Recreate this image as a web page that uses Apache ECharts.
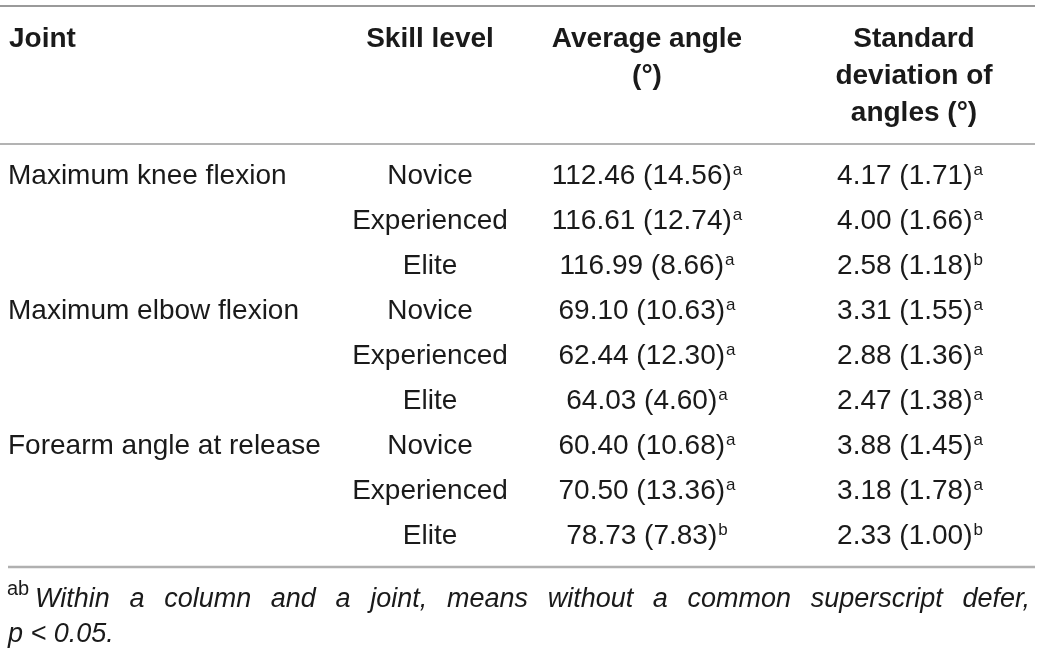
<!DOCTYPE html>
<html>
<head>
<meta charset="utf-8">
<script src="https://cdn.jsdelivr.net/npm/echarts@6/dist/echarts.min.js"></script>
<style>
  html, body { margin: 0; padding: 0; background: #fff; }
  #table { width: 1041px; height: 656px; }
</style>
</head>
<body>
<div id="table"></div>
<script>
// 表格数据
var joints = ['Maximum knee flexion', 'Maximum elbow flexion', 'Forearm angle at release']
var skillLevels = ['Novice', 'Experienced', 'Elite']
var headers = ['Joint', 'Skill level', 'Average angle\n(°)', 'Standard\ndeviation of\nangles (°)']

// Average angle: mean (sd) + superscript
var avgMean = [112.46, 116.61, 116.99, 69.10, 62.44, 64.03, 60.40, 70.50, 78.73]
var avgSd = [14.56, 12.74, 8.66, 10.63, 12.30, 4.60, 10.68, 13.36, 7.83]
var avgSup = ['a', 'a', 'a', 'a', 'a', 'a', 'a', 'a', 'b']

// Standard deviation of angles: mean (sd) + superscript
var sdMean = [4.17, 4.00, 2.58, 3.31, 2.88, 2.47, 3.88, 3.18, 2.33]
var sdSd = [1.71, 1.66, 1.18, 1.55, 1.36, 1.38, 1.45, 1.78, 1.00]
var sdSup = ['a', 'a', 'b', 'a', 'a', 'a', 'a', 'a', 'b']

var footSup = 'ab'
var footLines = ['Within a column and a joint, means without a common superscript defer,', 'p < 0.05.']

// 行 = 关节 x 水平
var rows = []
joints.forEach(function(j) {
  skillLevels.forEach(function(s) { rows.push(j + ' / ' + s) })
})

var FONT = '"Liberation Sans", Arial, sans-serif'
var INK = '#1a1a1a'

// 每一列一个 grid，列位置在这里定义
var cols = [
  { left: 8, width: 2, align: 'left' },
  { left: 330, width: 200, align: 'center' },
  { left: 547, width: 200, align: 'center' },
  { left: 810, width: 200, align: 'center' }
]

function cellText(mean, sd, sup) {
  return '{n|' + mean.toFixed(2) + ' (' + sd.toFixed(2) + ')}{s|' + sup + '}'
}

var richCell = {
  n: { fontSize: 28, fontFamily: FONT, color: INK, lineHeight: 34 },
  s: { fontSize: 17, fontFamily: FONT, color: INK, verticalAlign: 'top', padding: [3, 0, 0, 1] }
}

var grids = [], xAxes = [], yAxes = []
cols.forEach(function(c, i) {
  grids.push({ left: c.left, width: c.width, top: 153.5, height: 405 })
  xAxes.push({
    gridIndex: i,
    type: 'value',
    min: 0,
    max: 2,
    position: 'top',
    offset: 9.5,
    axisLine: { show: false },
    axisTick: { show: false },
    axisLabel: { show: false },
    splitLine: { show: false },
    name: headers[i],
    nameLocation: 'middle',
    nameGap: 123.5,
    nameTextStyle: {
      fontFamily: FONT,
      fontSize: 28,
      fontWeight: 'bold',
      color: INK,
      lineHeight: 37,
      align: c.align,
      verticalAlign: 'top',
      padding: i === 3 ? [0, 0, 0, 8] : 0
    }
  })
  yAxes.push({
    gridIndex: i,
    type: 'category',
    inverse: true,
    data: rows,
    show: false
  })
})

function labelSeries(i, items) {
  return {
    type: 'scatter',
    xAxisIndex: i,
    yAxisIndex: i,
    symbolSize: 1,
    itemStyle: { color: 'rgba(0,0,0,0)' },
    silent: true,
    label: {
      show: true,
      position: 'inside',
      align: cols[i].align,
      verticalAlign: 'middle',
      fontFamily: FONT,
      fontSize: 28,
      color: INK,
      opacity: 1,
      rich: richCell
    },
    data: items
  }
}

var jointData = joints.map(function(j, k) {
  return { value: [0, k * skillLevels.length], label: { formatter: j } }
})
var skillData = rows.map(function(r, k) {
  return { value: [1, k], label: { formatter: skillLevels[k % skillLevels.length] } }
})
var avgData = avgMean.map(function(m, k) {
  return { value: [1, k], label: { formatter: cellText(m, avgSd[k], avgSup[k]) } }
})
var sdData = sdMean.map(function(m, k) {
  return { value: [1, k], label: { formatter: cellText(m, sdSd[k], sdSup[k]) } }
})

// 脚注，两端对齐
var FOOT_SIZE = 27
var ctx = document.createElement('canvas').getContext('2d')
ctx.font = 'italic ' + FOOT_SIZE + 'px ' + FONT
function justifyLine(text, x0, x1, y) {
  var words = text.split(' ')
  var widths = words.map(function(w) { return ctx.measureText(w).width })
  var total = widths.reduce(function(a, b) { return a + b }, 0)
  var gap = (x1 - x0 - total) / (words.length - 1)
  var x = x0
  return words.map(function(w, k) {
    var el = {
      type: 'text', x: x, y: y, silent: true,
      style: { text: w, fontFamily: FONT, fontSize: FOOT_SIZE, fontStyle: 'italic', fill: INK, verticalAlign: 'middle' }
    }
    x += widths[k] + gap
    return el
  })
}

var graphics = [
  { type: 'line', shape: { x1: 0, y1: 6, x2: 1035, y2: 6 }, style: { stroke: '#9a9a9a', lineWidth: 2 } },
  { type: 'line', shape: { x1: 0, y1: 144, x2: 1035, y2: 144 }, style: { stroke: '#9a9a9a', lineWidth: 1.5 } },
  { type: 'line', shape: { x1: 8, y1: 567, x2: 1035, y2: 567 }, style: { stroke: '#b0b0b0', lineWidth: 2.5 } },
  {
    type: 'text', x: 7, y: 589, silent: true,
    style: { text: footSup, fontFamily: FONT, fontSize: 20, fill: INK, verticalAlign: 'middle' }
  },
  {
    type: 'text', x: 8, y: 634, silent: true,
    style: { text: footLines[1], fontFamily: FONT, fontSize: FOOT_SIZE, fontStyle: 'italic', fill: INK, verticalAlign: 'middle' }
  }
].concat(justifyLine(footLines[0], 35, 1030, 599))

var myChart = echarts.init(document.getElementById('table'))
var option = {
  backgroundColor: '#fff',
  animation: false,
  grid: grids,
  xAxis: xAxes,
  yAxis: yAxes,
  series: [
    labelSeries(0, jointData),
    labelSeries(1, skillData),
    labelSeries(2, avgData),
    labelSeries(3, sdData)
  ],
  graphic: graphics
}
myChart.setOption(option)
</script>
</body>
</html>
